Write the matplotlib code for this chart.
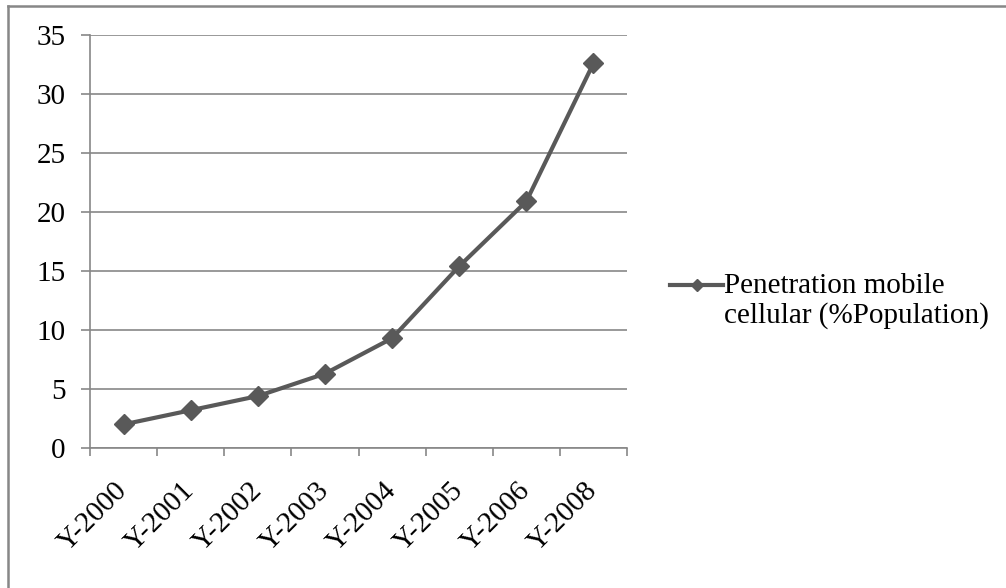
import matplotlib
matplotlib.use("Agg")
import matplotlib.pyplot as plt
from matplotlib.lines import Line2D
from matplotlib.legend_handler import HandlerLine2D

years = ["Y-2000", "Y-2001", "Y-2002", "Y-2003", "Y-2004", "Y-2005", "Y-2006", "Y-2008"]
penetration = [2.0, 3.2, 4.4, 6.3, 9.3, 15.4, 20.9, 32.6]
series_name = "Penetration mobile\ncellular (%Population)"

plt.rcParams['font.family'] = ['Liberation Serif', 'DejaVu Serif']
plt.rcParams['font.size'] = 21

grey = '#878787'
line_col = '#595959'


class FirstLineHandler(HandlerLine2D):
    # put the legend key level with the first text line, like Excel does
    def create_artists(self, legend, orig_handle, xdescent, ydescent,
                       width, height, fontsize, trans):
        return super().create_artists(legend, orig_handle, xdescent,
                                      ydescent - 23, width, height,
                                      fontsize, trans)


fig = plt.figure(figsize=(10.06, 5.88), dpi=100)
ax = fig.add_axes([90 / 1006, 1 - 448 / 588, 537 / 1006, 413 / 588])

pos = [i + 0.5 for i in range(len(years))]
ax.plot(pos, penetration, color=line_col, lw=3.0, marker='D', markersize=10,
        markerfacecolor=line_col, markeredgecolor=line_col, label=series_name,
        solid_joinstyle='round', zorder=5)

ax.set_xlim(0, len(years))
ax.set_ylim(0, 35)
ax.set_yticks(range(0, 36, 5))
ax.set_xticks(range(0, len(years) + 1))
ax.set_xticklabels([])
ax.set_xticks(pos, minor=True)
ax.set_xticklabels(years, minor=True, rotation=45, ha='right', va='center',
                   rotation_mode='anchor')

ax.yaxis.grid(True, color=grey, lw=1.2)
ax.set_axisbelow(True)
for s in ['top', 'right']:
    ax.spines[s].set_visible(False)
for s in ['left', 'bottom']:
    ax.spines[s].set_color(grey)
    ax.spines[s].set_linewidth(1.2)
ax.tick_params(axis='y', direction='out', length=6.5, color=grey, width=1.2, pad=11)
ax.tick_params(axis='x', which='major', direction='out', length=5.5, color=grey, width=1.2)
ax.tick_params(axis='x', which='minor', length=0, pad=28)

leg = fig.legend(loc='center left', bbox_to_anchor=(644 / 1006, 1 - 301 / 588),
                 frameon=False, handlelength=1.8, handletextpad=0.05,
                 markerscale=0.6, fontsize=21,
                 handler_map={Line2D: FirstLineHandler()})
for t in leg.get_texts():
    t.set_linespacing(1.15)

# outer chart border (only top and left visible)
fig.add_artist(Line2D([7.5 / 1006, 7.5 / 1006], [0, 1 - 5.5 / 588],
                      transform=fig.transFigure, color=grey, lw=1.8))
fig.add_artist(Line2D([7.5 / 1006, 1], [1 - 5.5 / 588, 1 - 5.5 / 588],
                      transform=fig.transFigure, color=grey, lw=1.8))

fig.savefig("out.png", dpi=100)
